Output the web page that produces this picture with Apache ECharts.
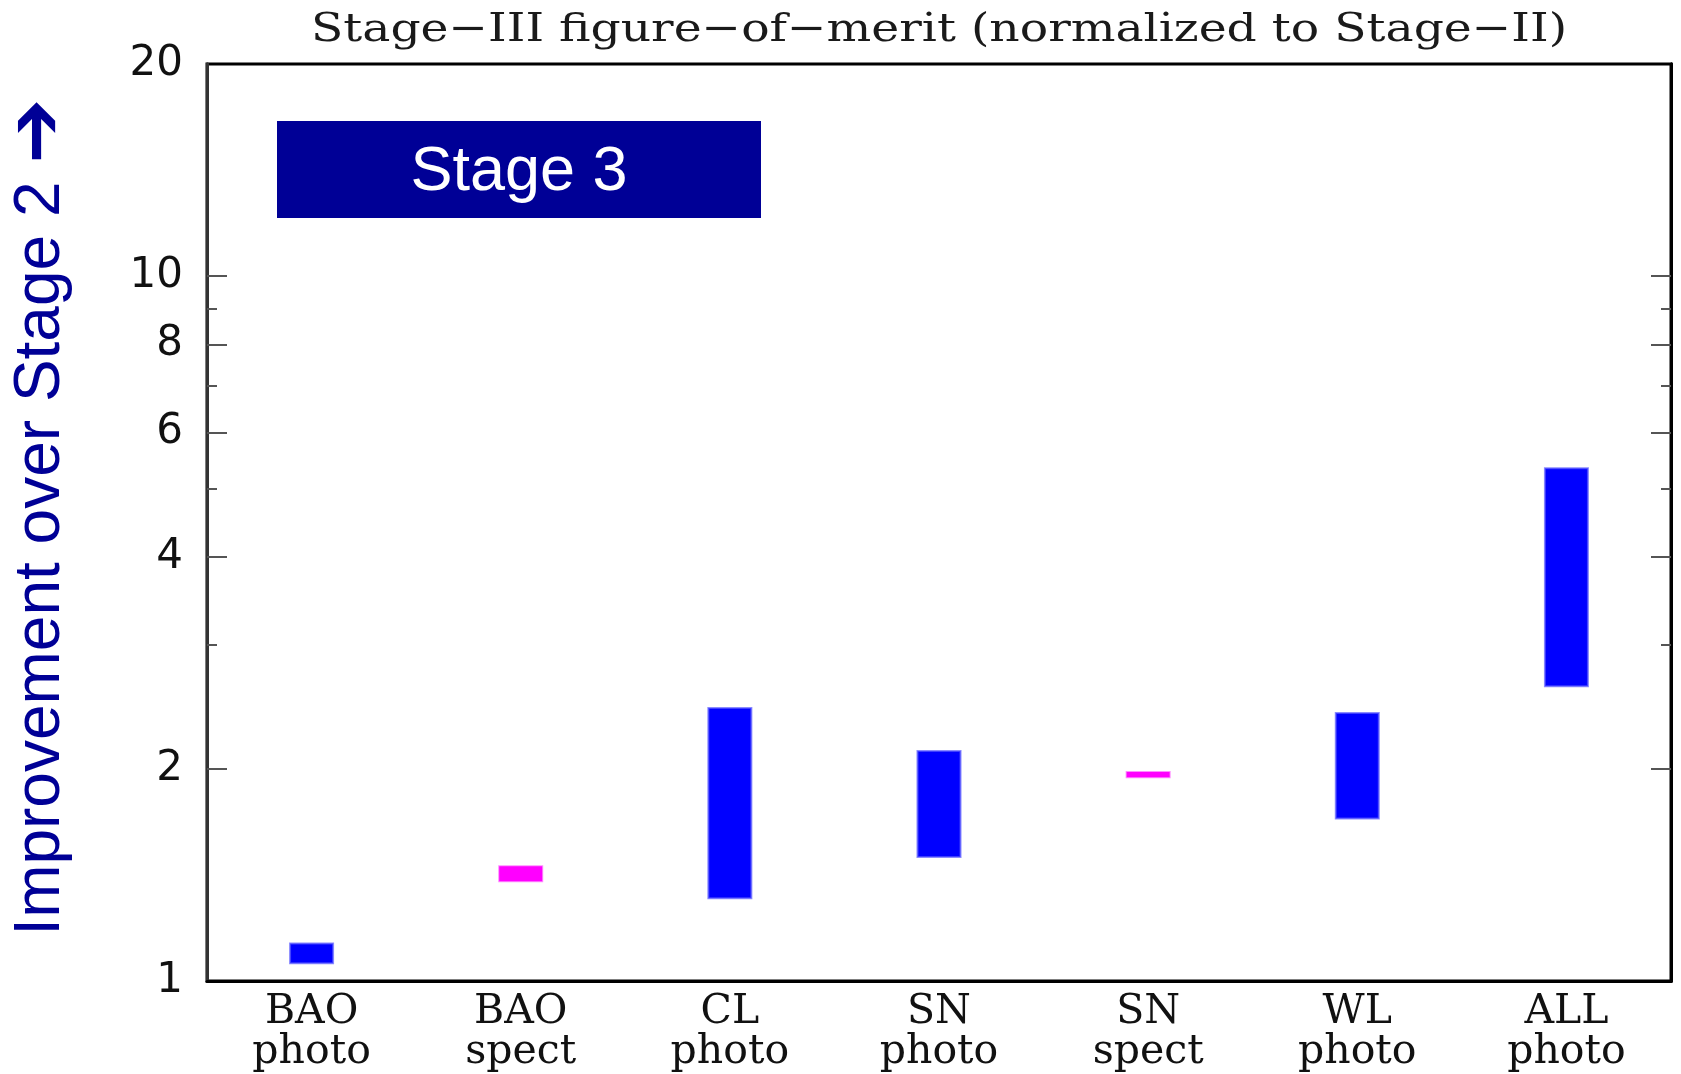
<!DOCTYPE html>
<html>
<head>
<meta charset="utf-8">
<script src="https://cdn.jsdelivr.net/npm/echarts@6/dist/echarts.min.js"></script>
<style>
html,body{margin:0;padding:0;background:#fff;}
#chart{width:1681px;height:1074px;}
</style>
</head>
<body>
<div id="chart"></div>
<script>
// ---- data ----
const categories = ['BAO\nphoto', 'BAO\nspect', 'CL\nphoto', 'SN\nphoto', 'SN\nspect', 'WL\nphoto', 'ALL\nphoto'];
const lowValues  = [1.06, 1.385, 1.31, 1.50, 1.945, 1.70, 2.62];
const highValues = [1.13, 1.455, 2.44, 2.12, 1.980, 2.40, 5.34];
const yLabelValues = [1, 2, 4, 6, 8, 10, 20];
const yMajorTicks = [2, 4, 6, 8, 10];
const yMinorTicks = [3, 5, 7, 9];
const titleText = 'Stage\u2212III figure\u2212of\u2212merit (normalized to Stage\u2212II)';
const yTitleText = 'Improvement over Stage 2';
const yTitleArrow = '\u2794';
const boxText = 'Stage 3';

const seriesData = categories.map((c, i) => [i, lowValues[i], highValues[i]]);

const chart = echarts.init(document.getElementById('chart'), null, {renderer: 'canvas'});

function yAxisDef(pos, ticks, len, showLabel) {
  return {
    type: 'log', logBase: 10, min: 1, max: 20, position: pos,
    axisLine: {show: true, onZero: false, lineStyle: {color: pos === 'left' ? '#333' : '#000', width: 3}},
    axisTick: {show: true, inside: true, length: len, customValues: ticks, lineStyle: {color: '#555', width: 2}},
    minorTick: {show: false},
    splitLine: {show: false},
    axisLabel: showLabel ? {
      show: true, customValues: yLabelValues, margin: 24,
      fontFamily: 'DejaVu Sans', fontSize: 42, color: '#111',
      formatter: v => String(Math.round(v))
    } : {show: false}
  };
}

const option = {
  animation: false,
  backgroundColor: '#fff',
  grid: {left: 207, right: 10, top: 64, bottom: 93, show: true, borderColor: '#000', borderWidth: 3, backgroundColor: 'transparent'},
  xAxis: {
    type: 'category', data: categories, boundaryGap: true,
    axisLine: {show: true, lineStyle: {color: '#000', width: 3}},
    axisTick: {show: false},
    axisLabel: {
      interval: 0, margin: 11, fontFamily: 'DejaVu Serif', fontSize: 41, lineHeight: 40, color: '#111'
    }
  },
  yAxis: [
    yAxisDef('left', yMajorTicks, 20, true),
    yAxisDef('left', yMinorTicks, 10, false),
    yAxisDef('right', yMajorTicks, 20, false),
    yAxisDef('right', yMinorTicks, 10, false)
  ],
  graphic: [
    {
      type: 'text', x: 939, y: 31, scaleX: 1.18,
      style: {text: titleText, font: '40px "DejaVu Serif"', fill: '#1a1a1a', align: 'center', verticalAlign: 'middle'}
    },
    {
      type: 'text', x: 41, y: 517, rotation: Math.PI / 2,
      style: {
        text: '{a|' + yTitleText + ' }{b|' + yTitleArrow + '}',
        align: 'center', verticalAlign: 'middle',
        rich: {
          a: {font: '64px "Liberation Sans"', fill: '#000096', verticalAlign: 'middle'},
          b: {font: 'bold 78px "DejaVu Sans"', fill: '#000096', verticalAlign: 'middle'}
        }
      }
    },
    {
      type: 'rect', shape: {x: 277, y: 121, width: 484, height: 97},
      style: {fill: '#000096'}
    },
    {
      type: 'text', x: 519, y: 173,
      style: {text: boxText, font: '63px "Liberation Sans"', fill: '#fff', align: 'center', verticalAlign: 'middle'}
    }
  ],
  series: [{
    type: 'custom',
    xAxisIndex: 0, yAxisIndex: 0,
    data: seriesData,
    encode: {x: 0, y: [1, 2]},
    renderItem: function (params, api) {
      const i = api.value(0);
      const lo = api.value(1), hi = api.value(2);
      const pTop = api.coord([i, hi]);
      const pBot = api.coord([i, lo]);
      const w = 43;
      const isSpect = categories[i].indexOf('spect') >= 0;
      return {
        type: 'rect',
        shape: {x: pTop[0] - w / 2, y: pTop[1], width: w, height: pBot[1] - pTop[1]},
        style: {
          fill: isSpect ? '#ff00ff' : '#0000ff',
          stroke: isSpect ? 'rgba(255,0,255,0.45)' : 'rgba(90,90,255,0.7)',
          lineWidth: 2
        }
      };
    }
  }]
};
chart.setOption(option);
</script>
</body>
</html>
